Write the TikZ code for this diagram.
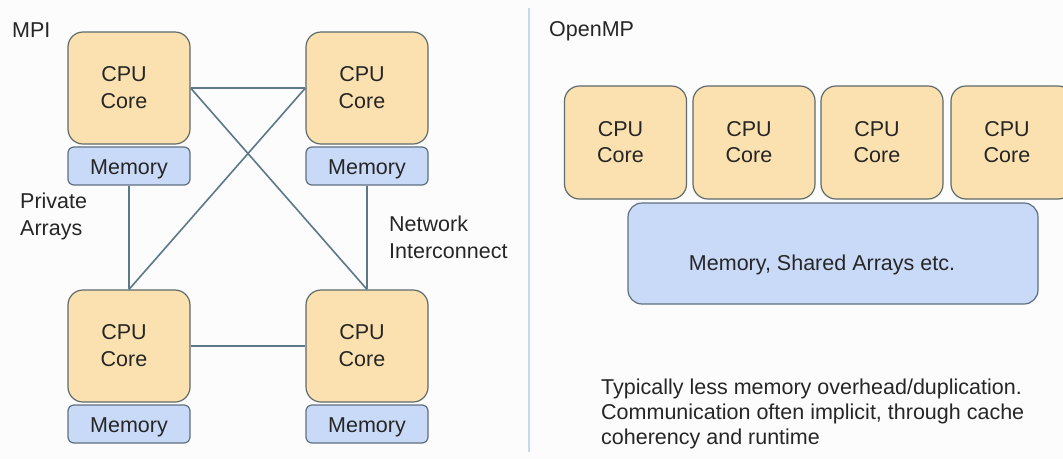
\documentclass[tikz,border=0pt]{standalone}
\usepackage{fontspec}
\setmainfont{Liberation Sans}
\definecolor{bg}{HTML}{FCFCFC}
\definecolor{cpuFill}{HTML}{FBE1AF}
\definecolor{cpuStroke}{HTML}{5E6A6B}
\definecolor{memFill}{HTML}{C9DAF8}
\definecolor{memStroke}{HTML}{5E6F80}
\definecolor{connCol}{HTML}{5D7888}
\definecolor{divCol}{HTML}{C6D9EE}
\definecolor{txt}{HTML}{262626}
\newcommand{\shiftdown}[2]{\raisebox{-#1}[\height][\depth]{#2}}
\begin{document}
\begin{tikzpicture}[x=1pt,y=-1pt,
  cpu/.style={draw=cpuStroke, fill=cpuFill, rounded corners=15pt, line width=1.2pt,
    minimum width=122pt, minimum height=112pt, inner sep=0pt, align=center,
    text=txt, font=\fontsize{21.5}{27}\selectfont},
  ompcpu/.style={cpu, minimum height=113pt, font=\fontsize{21.5}{26}\selectfont},
  mem/.style={draw=memStroke, fill=memFill, rounded corners=6pt, line width=1.2pt,
    minimum width=122pt, minimum height=38pt, inner sep=0pt,
    text=txt, font=\fontsize{21.5}{25}\selectfont},
  bigmem/.style={mem, rounded corners=14pt, minimum width=410pt, minimum height=101pt},
  conn/.style={draw=connCol, line width=1.6pt},
  lbl/.style={inner sep=0pt, text=txt, align=left, font=\fontsize{21.5}{27}\selectfont},
  divider/.style={draw=divCol, line width=2pt}
]
\useasboundingbox (0,0) rectangle (1063,459);
\clip (0,0) rectangle (1063,459);
\fill[bg] (0,0) rectangle (1063,459);

% ---------------- MPI ----------------
\node[lbl, anchor=base west] (mpi) at (12,37) {MPI};

\node[cpu] (tl) at (129,88) {CPU\hspace*{10pt}\\Core\hspace*{10pt}};
\node[mem] (tlm) at (129,166) {\shiftdown{3pt}{Memory}};
\node[cpu] (tr) at (367,88) {CPU\hspace*{10pt}\\Core\hspace*{10pt}};
\node[mem] (trm) at (367,166) {\shiftdown{3pt}{Memory}};
\node[cpu] (bl) at (129,346) {CPU\hspace*{10pt}\\Core\hspace*{10pt}};
\node[mem] (blm) at (129,424) {\shiftdown{3pt}{Memory}};
\node[cpu] (br) at (367,346) {CPU\hspace*{10pt}\\Core\hspace*{10pt}};
\node[mem] (brm) at (367,424) {\shiftdown{3pt}{Memory}};

\draw[conn] (tl.east) -- (tr.west);
\draw[conn] (tl.east) -- (br.north);
\draw[conn] (tr.west) -- (bl.north);
\draw[conn] (tlm.south) -- (bl.north);
\draw[conn] (trm.south) -- (br.north);
\draw[conn] (bl.east) -- (br.west);

\node[lbl, anchor=north west] (priv) at (20,193) {Private\\Arrays};
\node[lbl, anchor=north west] (net) at (389,216) {Network\\Interconnect};

% ---------------- divider ----------------
\draw[divider] (529,8) -- (529,452);

% ---------------- OpenMP ----------------
\node[lbl, anchor=base west] (omp) at (549,36) {OpenMP};

\node[ompcpu] (c1) at (625.5,142.5) {CPU\hspace*{10pt}\\Core\hspace*{10pt}};
\node[ompcpu] (c2) at (754,142.5) {CPU\hspace*{10pt}\\Core\hspace*{10pt}};
\node[ompcpu] (c3) at (882,142.5) {CPU\hspace*{10pt}\\Core\hspace*{10pt}};
\node[ompcpu] (c4) at (1012,142.5) {CPU\hspace*{10pt}\\Core\hspace*{10pt}};

\node[bigmem] (shm) at (833,253.5) {\shiftdown{11pt}{Memory, Shared Arrays etc.}\hspace*{22pt}};

\node[lbl, anchor=north west, font=\fontsize{21.5}{25}\selectfont] (note) at (601,379)
  {Typically less memory overhead/duplication.\\
   Communication often implicit, through cache\\
   coherency and runtime};
\end{tikzpicture}
\end{document}
